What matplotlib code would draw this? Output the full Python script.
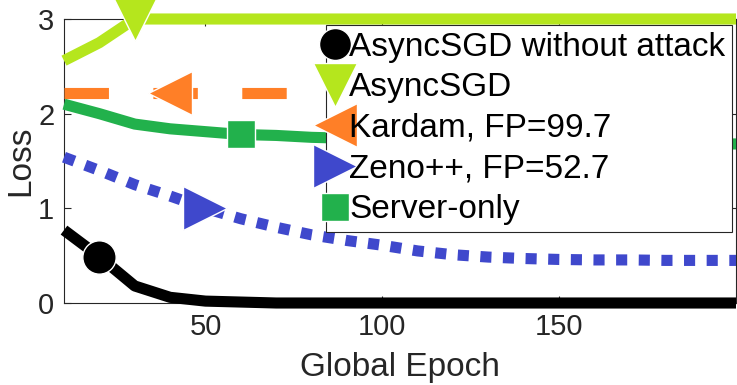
import matplotlib
matplotlib.use("Agg")
import numpy as np
from matplotlib import pyplot as plt
from matplotlib.lines import Line2D

plt.rcParams['font.family'] = ['Liberation Sans', 'DejaVu Sans']
plt.rcParams['lines.scale_dashes'] = False

epochs = np.arange(10, 201, 10)
no_attack = [0.77, 0.49, 0.18, 0.06, 0.02, 0.01, 0.0, 0.0, 0.0, 0.0,
             0.0, 0.0, 0.0, 0.0, 0.0, 0.0, 0.0, 0.0, 0.0, 0.0]
async_sgd = [2.56, 2.75, 3.0, 3.0, 3.0, 3.0, 3.0, 3.0, 3.0, 3.0,
             3.0, 3.0, 3.0, 3.0, 3.0, 3.0, 3.0, 3.0, 3.0, 3.0]
kardam = [2.22] * 20
zeno = [1.54, 1.40, 1.25, 1.13, 1.0, 0.89, 0.80, 0.72, 0.66, 0.61,
        0.55, 0.51, 0.485, 0.47, 0.46, 0.455, 0.455, 0.45, 0.45, 0.45]
server_only = [2.10, 2.00, 1.89, 1.84, 1.81, 1.78, 1.77, 1.75, 1.74, 1.73,
               1.72, 1.72, 1.71, 1.71, 1.70, 1.70, 1.69, 1.69, 1.68, 1.68]

labels = ['AsyncSGD without attack', 'AsyncSGD', 'Kardam, FP=99.7',
          'Zeno++, FP=52.7', 'Server-only']
colors = ['black', '#B5E61D', '#FF7F27', '#3F48CC', '#22B14C']
markers = ['o', 'v', '<', '>', 's']
msizes = [24, 31, 31, 31, 20]
mark_at = [1, 2, 3, 4, 5]

fig = plt.figure(figsize=(7.37, 3.85), dpi=100)
ax = fig.add_axes([64 / 737, 82 / 385, 672 / 737, 284 / 385])

series = [no_attack, async_sgd, kardam, zeno, server_only]
styles = ['-', '-', (0, (32, 32)), (0, (8, 8.3)), '-']
for y, c, m, ms, st, k in zip(series, colors, markers, msizes, styles, mark_at):
    ax.plot(epochs, y, color=c, lw=8, ls=st, marker=m, markersize=ms,
            markevery=[k], markeredgecolor='white', markeredgewidth=1,
            solid_joinstyle='round', solid_capstyle='butt',
            dash_capstyle='butt', clip_on=False, zorder=3)

ax.set_xlim(10, 200)
ax.set_ylim(0, 3)
ax.set_xticks([50, 100, 150])
ax.set_yticks([0, 1, 2, 3])
ax.tick_params(direction='in', length=5, width=0.8, top=True, right=True,
               labelsize=21, colors='#262626', pad=7)
for s in ax.spines.values():
    s.set_color('#262626')
    s.set_linewidth(0.8)
ax.set_xlabel('Global Epoch', fontsize=24, color='#262626', labelpad=8)
ax.set_ylabel('Loss', fontsize=24, color='#262626', labelpad=1)

handles = [Line2D([], [], ls='none', marker=m, color=c, markersize=ms,
                  markeredgecolor='white', markeredgewidth=1)
           for m, c, ms in zip(markers, colors, [23, 31, 31, 31, 20])]
leg = ax.legend(handles, labels, loc='upper right',
                bbox_to_anchor=(0.994, 0.979), borderaxespad=0,
                fontsize=24, frameon=True, fancybox=False, framealpha=1,
                edgecolor='#262626', borderpad=0.2, handlelength=0.15,
                handletextpad=0.35, labelspacing=0.29)
leg.get_frame().set_linewidth(0.8)
leg.set_zorder(4)

fig.savefig('out.png', dpi=100)
